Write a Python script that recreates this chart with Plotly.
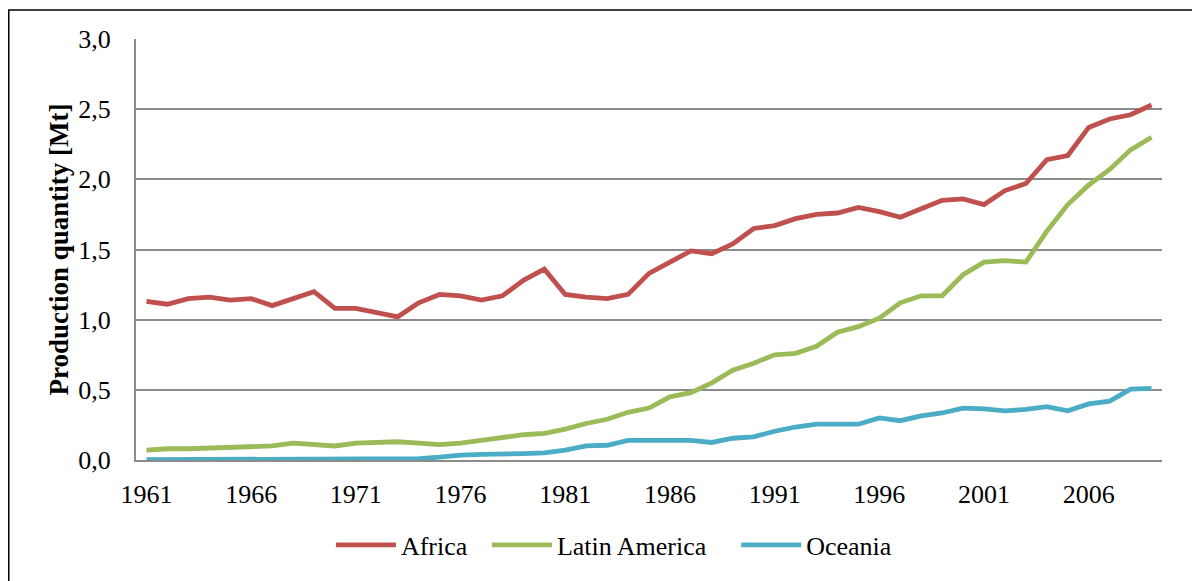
import plotly.graph_objects as go

years = list(range(1961, 2010))
africa = [1.13, 1.11, 1.15, 1.16, 1.14, 1.15, 1.10, 1.15, 1.20, 1.08,
          1.08, 1.05, 1.02, 1.12, 1.18, 1.17, 1.14, 1.17, 1.28, 1.36,
          1.18, 1.16, 1.15, 1.18, 1.33, 1.41, 1.49, 1.47, 1.54, 1.65,
          1.67, 1.72, 1.75, 1.76, 1.80, 1.77, 1.73, 1.79, 1.85, 1.86,
          1.82, 1.92, 1.97, 2.14, 2.17, 2.37, 2.43, 2.46, 2.53]
latin_america = [0.07, 0.08, 0.08, 0.085, 0.09, 0.09, 0.10, 0.12, 0.11, 0.10,
                 0.12, 0.125, 0.13, 0.12, 0.11, 0.12, 0.14, 0.16, 0.18, 0.19,
                 0.22, 0.26, 0.29, 0.34, 0.37, 0.45, 0.48, 0.55, 0.64, 0.69,
                 0.75, 0.76, 0.81, 0.91, 0.95, 1.01, 1.12, 1.17, 1.17, 1.32,
                 1.41, 1.42, 1.41, 1.63, 1.82, 1.96, 2.07, 2.21, 2.30]
oceania = [0.002, 0.002, 0.002, 0.002, 0.002, 0.002, 0.002, 0.002, 0.002, 0.003,
           0.004, 0.005, 0.01, 0.01, 0.02, 0.035, 0.04, 0.04, 0.045, 0.05,
           0.07, 0.10, 0.105, 0.14, 0.14, 0.145, 0.14, 0.125, 0.155, 0.165,
           0.205, 0.235, 0.255, 0.255, 0.255, 0.30, 0.28, 0.315, 0.335, 0.37,
           0.365, 0.35, 0.36, 0.38, 0.35, 0.40, 0.42, 0.505, 0.51]
x_ticks = [1961, 1966, 1971, 1976, 1981, 1986, 1991, 1996, 2001, 2006]
y_ticks = [0.0, 0.5, 1.0, 1.5, 2.0, 2.5, 3.0]

series = [("Africa", africa, "#C0504D", "legend", 0.190),
          ("Latin America", latin_america, "#9BBB59", "legend2", 0.342),
          ("Oceania", oceania, "#4BACC6", "legend3", 0.585)]

font = "Liberation Serif, Times New Roman, serif"

fig = go.Figure()
legends = {}
for name, vals, col, leg, lx in series:
    fig.add_trace(go.Scatter(x=years, y=vals, name=name, mode="lines",
                             legend=leg, line=dict(color=col, width=4.8)))
    legends[leg] = dict(orientation="h", x=lx, xanchor="left", y=-0.146,
                        yanchor="top", font=dict(family=font, size=26),
                        itemwidth=60, bgcolor="rgba(0,0,0,0)")

fig.update_layout(
    width=1192, height=573,
    margin=dict(l=128, r=38, t=31, b=113),
    paper_bgcolor="white", plot_bgcolor="white",
    separators=",.",
    font=dict(family=font, size=26, color="black"),
    showlegend=True,
    xaxis=dict(range=[1960.5, 2009.5], tickvals=x_ticks, showgrid=False,
               showline=True, linecolor="#8c8c8c", linewidth=2, zeroline=False,
               ticks="", ticklabelstandoff=10, tickfont=dict(size=26)),
    yaxis=dict(range=[0, 3.0], tickvals=y_ticks, tickformat=".1f",
               showgrid=True, gridcolor="#8c8c8c", gridwidth=1.5,
               showline=True, linecolor="#8c8c8c", linewidth=2, zeroline=False,
               ticks="", ticklabelstandoff=18, tickfont=dict(size=26),
               title=dict(text="<b>Production quantity [Mt]</b>",
                          font=dict(family=font, size=27), standoff=2)),
    shapes=[dict(type="rect", xref="paper", yref="paper",
                 x0=-0.124, x1=1.2, y0=-0.4, y1=1.069,
                 line=dict(color="black", width=1.5), fillcolor="rgba(0,0,0,0)",
                 layer="below")],
    **legends,
)

fig.write_html("out.html")
